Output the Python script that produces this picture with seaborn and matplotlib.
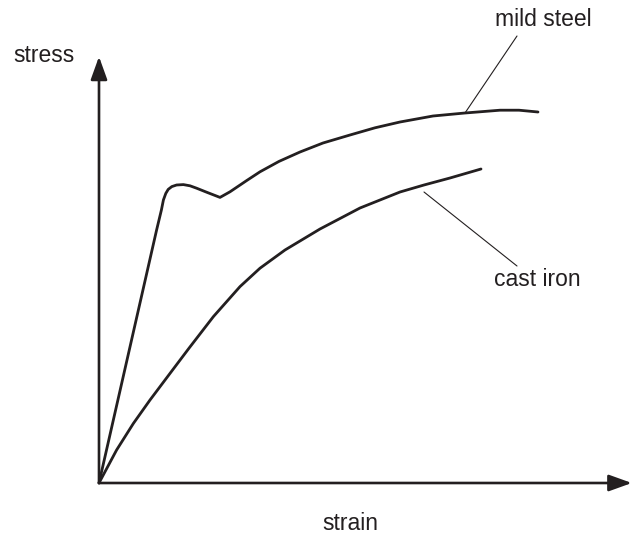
import matplotlib
matplotlib.use("Agg")
import matplotlib.pyplot as plt
import seaborn as sns
import pandas as pd

# values (arbitrary strain / stress units)
steel_strain = [0, 14.4, 15.6, 16.1, 16.7, 17.3, 18.2, 19.4, 21.1, 22.75, 24.4, 26.9, 30.25,
                32.75, 36.9, 40.25, 45.0, 50.25, 56.0, 62.75, 69.0, 75.25, 83.5, 91.5,
                100.25, 105.0, 109.75]
steel_stress = [0, 63.25, 68.25, 70.75, 72.4, 73.4, 74.1, 74.5, 74.6, 74.3, 73.7, 72.7, 71.4,
                72.8, 75.6, 77.8, 80.4, 82.75, 85.0, 87, 88.8, 90.25, 91.75, 92.5,
                93.2, 93.2, 92.75]

iron_strain = [0, 4.4, 8.6, 12.75, 17.75, 22.5, 28.6, 35.25, 40.25, 46.5, 55.25, 65.25,
               75.25, 81.25, 87.75, 95.5]
iron_stress = [0, 8.25, 14.9, 20.75, 27.4, 33.7, 41.6, 49.1, 53.7, 58.25, 63.5, 68.75,
               72.75, 74.5, 76.25, 78.5]

ink = "#231f20"

steel = pd.DataFrame({"strain": steel_strain, "stress": steel_stress})
iron = pd.DataFrame({"strain": iron_strain, "stress": iron_stress})

sns.set_style("white")
plt.rcParams["font.family"] = ["Liberation Sans", "DejaVu Sans"]

fig = plt.figure(figsize=(6.32, 5.35), dpi=100)
ax = fig.add_axes([0, 0, 1, 1])
ax.set_xlim(-24.75, 133.25)
ax.set_ylim(-13, 120.75)
ax.axis("off")

sns.lineplot(data=steel, x="strain", y="stress", sort=False, color=ink, lw=2.0,
             solid_joinstyle="round", ax=ax)
sns.lineplot(data=iron, x="strain", y="stress", sort=False, color=ink, lw=2.0,
             solid_joinstyle="round", ax=ax)

# axes with arrow heads
arrow = dict(arrowstyle="-|>,head_length=1.0,head_width=0.36", mutation_scale=14,
             lw=1.9, color=ink, shrinkA=0, shrinkB=0)
ax.annotate("", xy=(0, 106.6), xytext=(0, 0), arrowprops=arrow)
ax.annotate("", xy=(133.2, 0), xytext=(0, 0), arrowprops=arrow)

# leader lines
ax.plot([91.5, 104.5], [92.5, 111.75], color=ink, lw=0.8)
ax.plot([81.25, 104.5], [72.75, 54.25], color=ink, lw=0.8)

fs = 16.5
ax.text(111, 115.75, "mild steel", ha="center", va="center", fontsize=fs, color=ink)
ax.text(109.5, 50.75, "cast iron", ha="center", va="center", fontsize=fs, color=ink)
ax.text(-13.75, 106.75, "stress", ha="center", va="center", fontsize=fs, color=ink)
ax.text(62.75, -10.25, "strain", ha="center", va="center", fontsize=fs, color=ink)

fig.savefig("out.png", dpi=100)
